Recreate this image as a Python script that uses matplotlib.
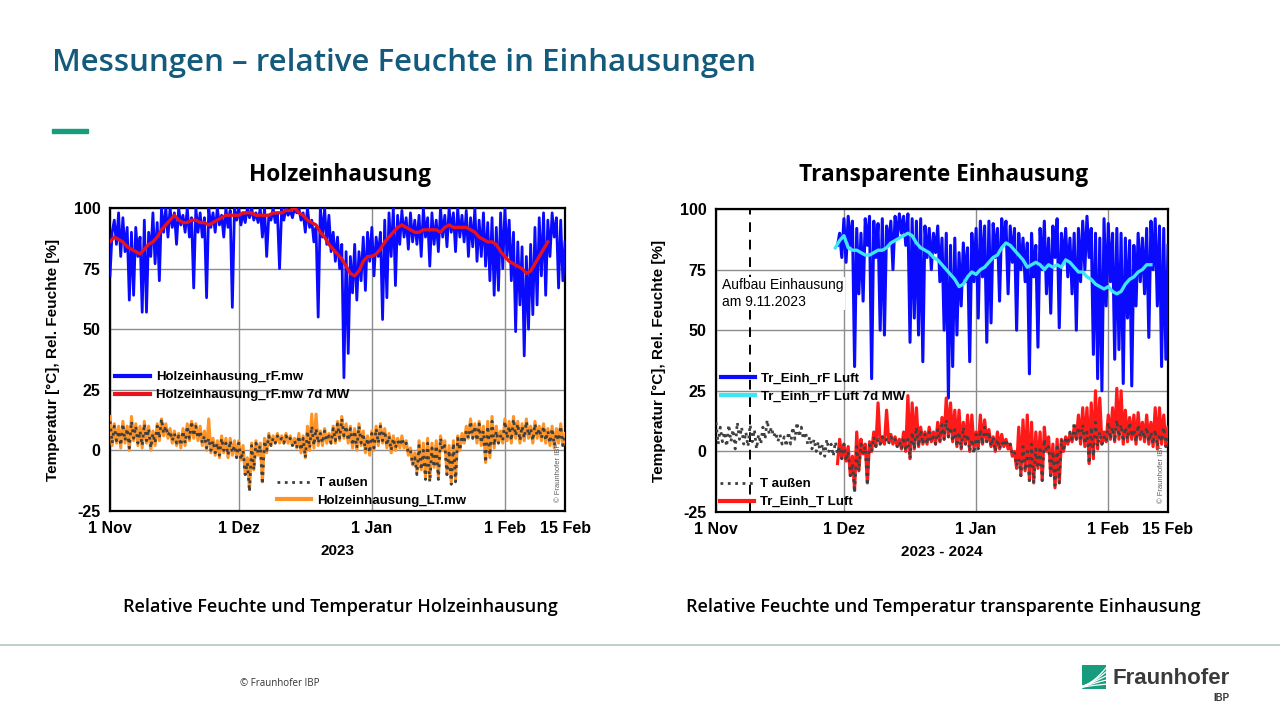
import numpy as np
import matplotlib
matplotlib.use('Agg')
from matplotlib import pyplot as plt
from matplotlib.lines import Line2D
from matplotlib.patches import Rectangle

tick_days = [0, 30, 61, 92, 106]
tick_labels = ['1 Nov', '1 Dez', '1 Jan', '1 Feb', '15 Feb']
y_ticks = [-25, 0, 25, 50, 75, 100]
aufbau_day = 8

# Holzeinhausung rF (Start Tag 0, 12h)
holz_rf = [72, 90, 95, 85, 98, 80, 96, 82, 92, 62, 90, 64, 92, 80, 88, 57, 95, 57, 90, 80,
           98, 77, 94, 70, 100, 90, 100, 88, 100, 92, 98, 85, 100, 93, 97, 90, 100, 88, 96, 67,
           100, 90, 98, 88, 96, 63, 100, 92, 98, 90, 100, 93, 97, 88, 100, 92, 99, 59, 100, 95,
           100, 93, 98, 94, 100, 96, 100, 95, 98, 94, 100, 88, 100, 80, 97, 95, 100, 94, 98, 75,
           100, 95, 100, 97, 99, 96, 100, 98, 100, 95, 98, 90, 100, 92, 95, 86, 92, 55, 100, 88,
           100, 85, 97, 82, 90, 78, 88, 75, 85, 30, 82, 40, 80, 65, 85, 62, 82, 70, 88, 66,
           90, 78, 92, 72, 88, 80, 90, 54, 95, 63, 98, 80, 100, 68, 97, 85, 99, 88, 96, 83,
           98, 86, 95, 85, 97, 80, 100, 88, 96, 76, 98, 85, 95, 82, 100, 88, 97, 84, 100, 90,
           98, 82, 100, 88, 97, 86, 99, 80, 96, 84, 100, 78, 95, 80, 98, 76, 94, 70, 96, 64,
           92, 66, 98, 75, 100, 80, 95, 70, 90, 49, 86, 60, 84, 39, 80, 50, 85, 56, 92, 60,
           96, 72, 98, 64, 95, 80, 98, 88, 96, 67, 95, 70, 86]

# Holzeinhausung rF 7d MW (Start Tag 0, taeglich)
holz_rf_7d = [86, 88, 87, 86, 84, 83, 82, 81, 83, 85, 86, 88, 91, 93, 95, 97, 95, 94, 94, 95,
              95, 94, 94, 93, 94, 95, 96, 97, 97, 97, 97, 98, 98, 98, 97, 97, 97, 97, 98, 98,
              98, 99, 99, 100, 98, 97, 95, 94, 93, 90, 88, 85, 83, 81, 79, 76, 73, 72, 74, 78,
              80, 80, 81, 83, 86, 88, 90, 92, 93, 92, 91, 90, 90, 91, 91, 91, 91, 90, 92, 93,
              92, 92, 92, 92, 91, 90, 88, 87, 86, 86, 85, 82, 80, 78, 77, 76, 75, 73, 74, 77,
              80, 83, 86]

# T aussen (Start Tag 0, 12h)
t_aussen = [12, 3, 10, 4, 8, 2, 11, 4, 9, 1, 12, 5, 10, 3, 8, 2, 11, 4, 9, 1,
            7, 3, 10, 5, 13, 7, 10, 6, 8, 4, 7, 3, 6, 2, 8, 3, 10, 5, 12, 6,
            10, 5, 8, 3, 6, 1, 5, 0, 4, -1, 3, -2, 5, 0, 3, -2, 4, -1, 2, -3,
            3, -4, 0, -10, -5, -17, 2, -8, 3, -1, 2, -14, 4, 0, 6, 2, 5, 3, 6, 4,
            5, 3, 6, 4, 5, 2, 4, 1, 6, 0, 5, -3, 8, 1, 10, 2, 9, 3, 7, 3,
            8, 4, 6, 3, 9, 4, 11, 5, 13, 6, 10, 4, 9, 2, 8, 1, 10, 3, 7, 0,
            5, -1, 7, 1, 9, 3, 10, 4, 8, 2, 6, 0, 5, 1, 4, 2, 5, 2, 3, -1,
            0, -6, -3, -10, 2, -8, 0, -12, 3, -13, 1, -7, 2, -12, 5, 0, 2, -10, 0, -14,
            3, -13, 5, 0, 6, 3, 8, 5, 12, 5, 10, 4, 11, 3, 8, -5, 10, -2, 12, 2,
            8, 3, 6, 4, 12, 5, 10, 4, 13, 6, 11, 4, 10, 5, 12, 6, 9, 4, 11, 6,
            9, 5, 10, 4, 8, 3, 9, 2, 7, 4, 10, 2, 6]

# Holzeinhausung LT (Start Tag 0, 12h)
holz_lt = [14, 2, 11, 3, 10, 1, 12, 3, 10, 0, 14, 4, 11, 2, 10, 1, 12, 3, 10, 0,
           8, 2, 11, 4, 13, 6, 11, 5, 9, 3, 8, 2, 7, 1, 9, 2, 11, 4, 12, 5,
           11, 4, 10, 2, 8, 0, 13, -1, 5, -2, 4, -3, 6, -1, 5, -3, 5, -2, 4, -3,
           4, -4, 2, -10, -3, -16, 3, -8, 4, -2, 3, -13, 5, -1, 7, 2, 6, 3, 7, 3,
           6, 3, 7, 3, 6, 2, 5, 1, 7, -1, 6, -3, 10, 0, 15, 1, 15, 2, 8, 2,
           9, 3, 7, 3, 10, 3, 12, 4, 14, 5, 11, 3, 10, 1, 9, 0, 11, 2, 8, -1,
           6, -2, 8, 0, 10, 2, 11, 3, 9, 1, 7, -1, 6, 0, 5, 1, 6, 1, 4, -2,
           1, -6, -1, -9, 4, -8, 3, -11, 5, -12, 3, -7, 4, -11, 6, 0, 4, -10, 2, -13,
           4, -12, 6, 0, 7, 3, 10, 5, 13, 5, 11, 3, 12, 2, 10, -5, 12, -3, 14, 1,
           10, 3, 8, 3, 13, 4, 12, 3, 14, 5, 12, 3, 11, 4, 13, 5, 10, 3, 12, 5,
           10, 4, 11, 3, 9, 2, 10, 1, 9, 3, 11, 2, 7]

# Transparente Einhausung rF (Start Tag 28.5, 12h)
tr_start = 28.5
tr_rf = [85,
         90, 80, 96, 78, 97, 85, 95, 35, 92, 65, 90, 62, 96, 85, 97, 30, 95, 80, 94, 50, 96, 48,
         93, 85, 95, 75, 97, 88, 98, 90, 97, 85, 98, 45, 96, 55, 95, 48, 96, 37, 93, 80,
         92, 75, 90, 82, 93, 70, 88, 50, 90, 22, 85, 35, 88, 48, 82, 60, 86, 70, 84, 37,
         90, 70, 92, 55, 95, 72, 93, 45, 95, 53, 94, 80, 92, 62, 96, 85, 95, 65, 93, 78,
         92, 50, 90, 75, 88, 70, 86, 32, 90, 72, 85, 43, 92, 75, 95, 65, 88, 57, 93, 80,
         96, 51, 90, 78, 92, 72, 88, 65, 90, 50, 92, 70, 95, 75, 97, 80, 92, 40, 90, 30,
         88, 25, 96, 60, 94, 70, 90, 38, 92, 42, 90, 28, 88, 55, 87, 27, 85, 60, 90, 70,
         88, 65, 92, 47, 95, 75, 96, 60, 93, 35, 92, 38,
         85]

# Transparente Einhausung rF 7d MW (Start Tag 28, taeglich)
tr_rf_7d_start = 28
tr_rf_7d = [84, 87, 89, 84, 83, 83, 82, 81, 81, 82, 83, 83, 84, 86, 87, 88, 89, 90, 89, 86,
            84, 83, 82, 80, 79, 77, 75, 73, 71, 68, 69, 72, 74, 73, 75, 76, 78, 80, 81, 84,
            86, 85, 83, 81, 79, 76, 77, 78, 77, 75, 77, 76, 77, 76, 79, 78, 76, 74, 74, 72,
            71, 69, 68, 67, 68, 66, 65, 66, 69, 71, 72, 74, 75, 77, 77]

# Transparente Einhausung T Luft (Start Tag 28.5, 12h)
tr_t = [-5,
        5, -3, 3, -4, 2, -10, -2, -16, 8, -8, 5, -1, 3, -13,
        4, 0, 8, 2, 20, 3, 6, 3, 17, 4, 7, 3, 6, 2, 5, 1, 8, 0, 23, -3,
        20, 1, 18, 2, 10, 3, 8, 3, 10, 4, 8, 3, 12, 4, 14, 5, 22, 6, 20, 4,
        17, 2, 17, 1, 12, 3, 15, 0, 15, 1, 8, 2, 15, 3, 13, 4, 9, 2, 6, 0,
        8, 1, 7, 2, 5, 1, 3, -2, 0, -7, 10, -10, 13, -8, 15, -12, 12, -13, 8, -7,
        8, -12, 10, 0, 6, -10, 3, -15, 5, -13, 5, 0, 6, 3, 7, 4, 10, 5, 15, 3,
        18, 2, 18, -5, 20, -3, 25, 1, 22, 3, 8, 4, 15, 5, 18, 4, 26, 5, 25, 3,
        17, 4, 14, 5, 15, 3, 16, 5, 12, 4, 15, 3, 12, 2, 18, 1, 18, 3, 15, 2,
        10]

t_half = np.arange(len(t_aussen)) * 0.5
t_holz_rf = np.arange(len(holz_rf)) * 0.5
t_holz_lt = np.arange(len(holz_lt)) * 0.5
t_holz_7d = np.arange(len(holz_rf_7d))
t_tr_rf = tr_start + np.arange(len(tr_rf)) * 0.5
t_tr_t = tr_start + np.arange(len(tr_t)) * 0.5
t_tr_7d = tr_rf_7d_start + np.arange(len(tr_rf_7d))

plt.rcParams['font.family'] = ['Liberation Sans', 'DejaVu Sans']
plt.rcParams['font.weight'] = 'bold'
plt.rcParams['axes.unicode_minus'] = False

fig = plt.figure(figsize=(12.8, 7.2), dpi=100)
fig.patch.set_facecolor('white')

ax1 = fig.add_axes([110 / 1280, 1 - 511 / 720, 455 / 1280, 303 / 720])
ax2 = fig.add_axes([716 / 1280, 1 - 512 / 720, 452 / 1280, 303 / 720])


def style_axes(ax, xlabel):
    ax.set_xlim(0, 106)
    ax.set_ylim(-25, 100)
    ax.set_xticks(tick_days, tick_labels)
    ax.set_yticks(y_ticks)
    ax.grid(True, color='#8c8c8c', linewidth=1.0, zorder=0)
    ax.set_axisbelow(True)
    for s in ax.spines.values():
        s.set_linewidth(1.6)
        s.set_color('black')
    ax.tick_params(axis='both', length=0, labelsize=11.5)
    ax.tick_params(axis='x', pad=7)
    ax.tick_params(axis='y', pad=7)
    ax.set_xlabel(xlabel, fontsize=11, fontweight='bold', labelpad=6)
    ax.set_ylabel('Temperatur [°C], Rel. Feuchte [%]', fontsize=11, fontweight='bold', labelpad=10)
    ax.text(0.985, 0.03, '© Fraunhofer IBP', rotation=90, fontsize=5.5, fontweight='normal',
            color='#606060', transform=ax.transAxes, ha='center', va='bottom')


leg_kw = dict(frameon=False, fontsize=9.5, handlelength=2.6, handletextpad=0.45,
              labelspacing=0.42, borderaxespad=0, borderpad=0)


def thicken(leg):
    for h in leg.legend_handles:
        if h.get_linestyle() == '-':
            h.set_linewidth(3)


# links: Holzeinhausung
l1, = ax1.plot(t_holz_rf, holz_rf, color='#0a0aff', lw=2.0, zorder=3)
l2, = ax1.plot(t_holz_7d, holz_rf_7d, color='#e8121c', lw=2.4, zorder=4)
l4, = ax1.plot(t_holz_lt, holz_lt, color='#ff9326', lw=2.2, zorder=3)
l3, = ax1.plot(t_half, t_aussen, color='#404040', lw=2.0, ls=':', zorder=4)
style_axes(ax1, '2023')
leg = ax1.legend([l1, l2], ['Holzeinhausung_rF.mw', 'Holzeinhausung_rF.mw 7d MW'],
                 loc='center left', bbox_to_anchor=(0.012, 0.412), **leg_kw)
thicken(leg)
ax1.add_artist(leg)
leg = ax1.legend([l3, l4], ['T außen', 'Holzeinhausung_LT.mw'],
                 loc='center left', bbox_to_anchor=(0.366, 0.063), **leg_kw)
thicken(leg)

# rechts: transparente Einhausung
r1, = ax2.plot(t_tr_rf, tr_rf, color='#0a0aff', lw=2.2, zorder=3)
r2, = ax2.plot(t_tr_7d, tr_rf_7d, color='#3ee6f2', lw=2.4, zorder=4)
r4, = ax2.plot(t_tr_t, tr_t, color='#ff1a1a', lw=2.3, zorder=3)
r3, = ax2.plot(t_half, t_aussen, color='#404040', lw=2.0, ls=':', zorder=4)
ax2.axvline(aufbau_day, color='black', lw=1.4, ls=(0, (5, 4)), zorder=2)
ax2.text(0.014, 0.72, 'Aufbau Einhausung\nam 9.11.2023', transform=ax2.transAxes,
         fontsize=10, fontweight='normal', va='center', ha='left', linespacing=1.3,
         bbox=dict(facecolor='white', edgecolor='none', pad=0.5))
style_axes(ax2, '2023 - 2024')
leg = ax2.legend([r1, r2], ['Tr_Einh_rF Luft', 'Tr_Einh_rF Luft 7d MW'],
                 loc='center left', bbox_to_anchor=(0.01, 0.41), **leg_kw)
thicken(leg)
ax2.add_artist(leg)
leg = ax2.legend([r3, r4], ['T außen', 'Tr_Einh_T Luft'],
                 loc='center left', bbox_to_anchor=(0.008, 0.062), **leg_kw)
thicken(leg)

# Folienrahmen
title_font = ['Open Sans', 'DejaVu Sans']
fig.text(52 / 1280, 1 - 63 / 720, 'Messungen – relative Feuchte in Einhausungen', family=title_font,
         fontsize=22.5, fontweight='semibold', color='#145a7c', va='center', ha='left')
fig.patches.append(Rectangle((52 / 1280, 1 - 133 / 720), 36 / 1280, 4 / 720,
                             transform=fig.transFigure, color='#179c7d'))
fig.text(340 / 1280, 1 - 175 / 720, 'Holzeinhausung', family=title_font, fontsize=16.3,
         fontweight='bold', color='black', ha='center', va='center')
fig.text(944 / 1280, 1 - 175 / 720, 'Transparente Einhausung', family=title_font, fontsize=16.3,
         fontweight='bold', color='black', ha='center', va='center')
fig.text(340 / 1280, 1 - 607 / 720, 'Relative Feuchte und Temperatur Holzeinhausung',
         family=title_font, fontsize=13, fontweight='semibold', ha='center', va='center')
fig.text(943 / 1280, 1 - 607 / 720, 'Relative Feuchte und Temperatur transparente Einhausung',
         family=title_font, fontsize=13, fontweight='semibold', ha='center', va='center')
fig.add_artist(Line2D([0, 1], [1 - 645 / 720, 1 - 645 / 720], transform=fig.transFigure,
                      color='#b4c6c6', lw=1.2))
fig.text(240 / 1280, 1 - 684 / 720, '© Fraunhofer IBP', family=title_font, fontsize=7,
         fontweight='normal', color='#333333', ha='left', va='center')

# Logo
lax = fig.add_axes([1082 / 1280, 1 - 689 / 720, 24 / 1280, 24 / 720])
lax.add_patch(Rectangle((0, 0), 1, 1, color='#179c7d'))
s = np.linspace(0, 1, 30)
for k, c in enumerate([0.15, 0.3, 0.45, 0.6, 0.75]):
    lax.plot(s, 0.05 + c * s ** (0.6 + 0.25 * k) + 0.02 * k, color='white', lw=0.9)
lax.set_xlim(0, 1)
lax.set_ylim(0, 1)
lax.axis('off')
fig.text(1112 / 1280, 1 - 679 / 720, 'Fraunhofer', fontsize=16, fontweight='bold',
         color='#3a3a3a', ha='left', va='center')
fig.text(1229 / 1280, 1 - 698 / 720, 'IBP', fontsize=7, fontweight='bold',
         color='#3a3a3a', ha='right', va='center')

fig.savefig('out.png', dpi=100)
